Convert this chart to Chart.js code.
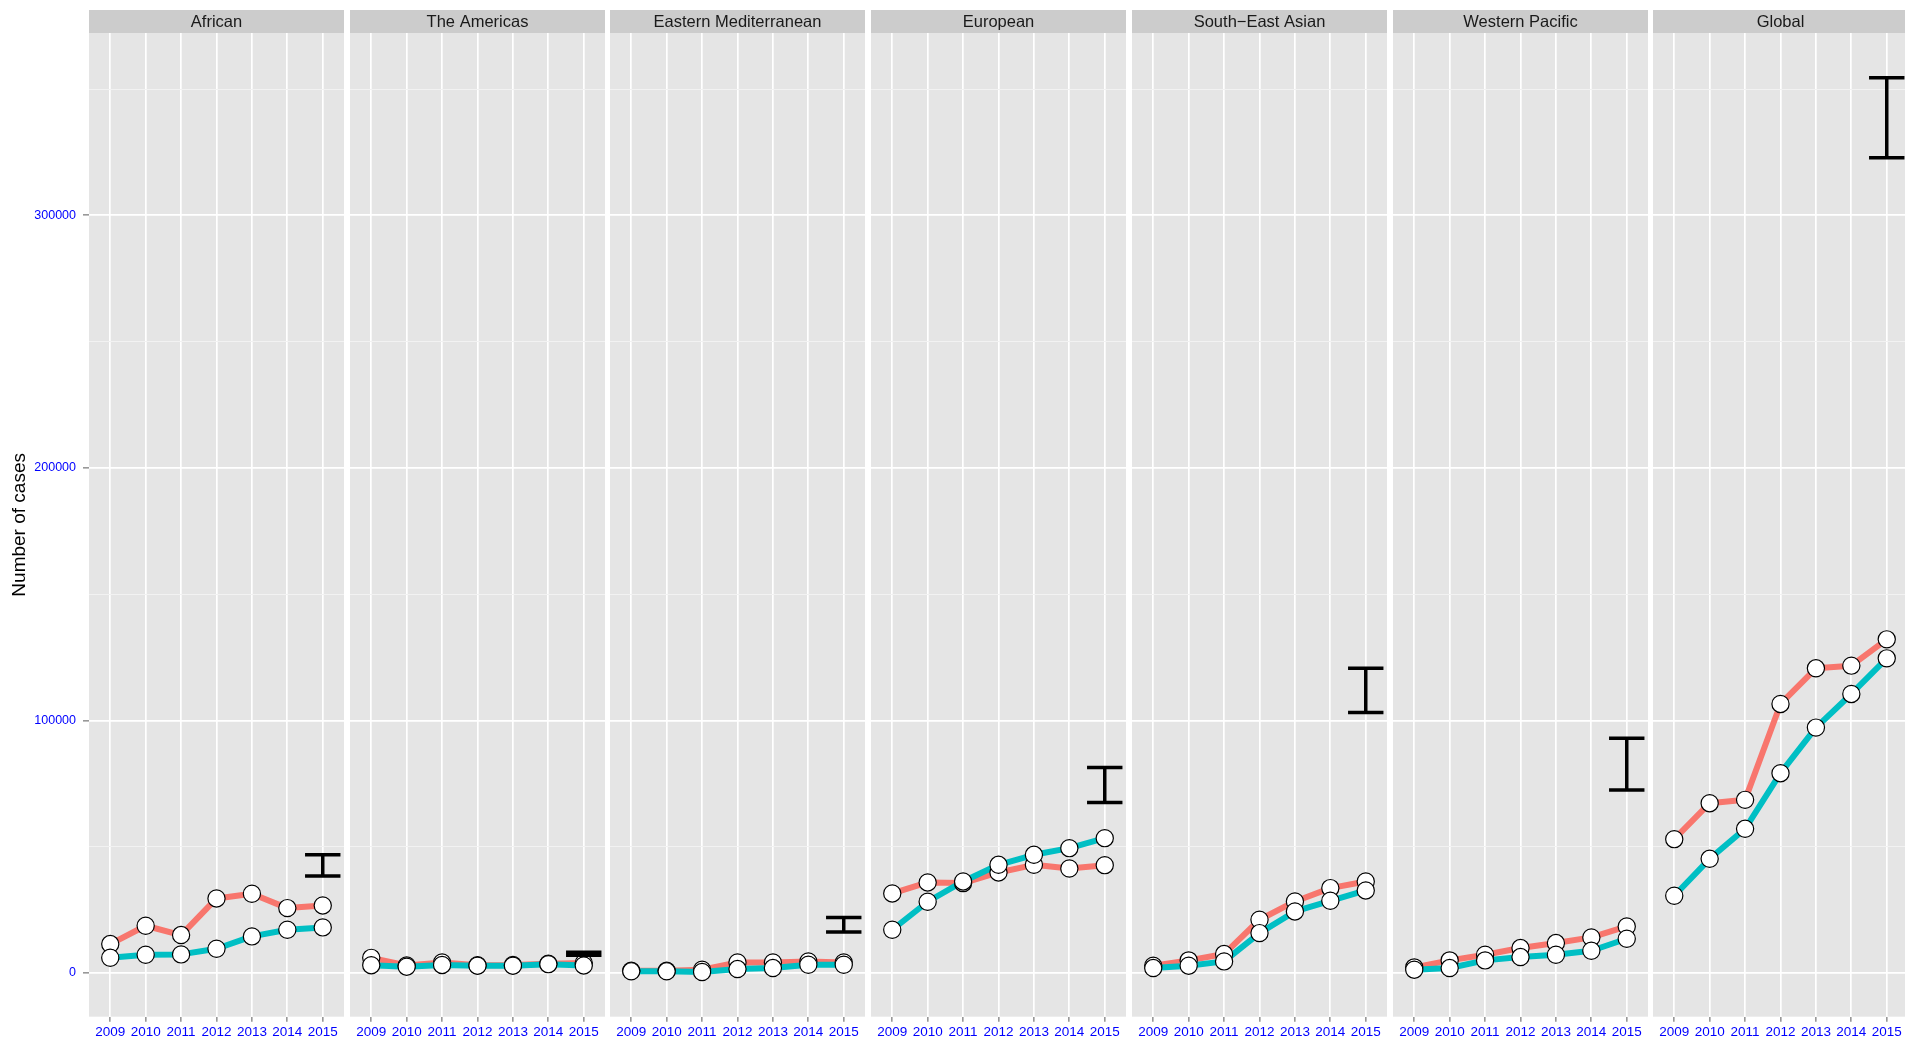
<!DOCTYPE html>
<html>
<head>
<meta charset="utf-8">
<title>Number of cases by WHO region, 2009–2015</title>
<script src="https://cdn.jsdelivr.net/npm/chart.js@4/dist/chart.umd.min.js"></script>
<style>
  html, body { margin: 0; padding: 0; background: #ffffff; overflow: hidden; }
  #wrap { position: relative; width: 1905px; height: 1040px; overflow: hidden; }
  #wrap canvas { position: absolute; top: 0; }
</style>
</head>
<body>
<div id="wrap"></div>
<script>
// Facet panels, one per region
const regions = ['African', 'The Americas', 'Eastern Mediterranean', 'European', 'South\u2212East Asian', 'Western Pacific', 'Global'];
const years = ['2009', '2010', '2011', '2012', '2013', '2014', '2015'];

// Cases detected (red line), one row per region, 2009..2015
const detected = [
  [11460, 18710, 15020, 29520, 31370, 25700, 26750],
  [6000, 3000, 4200, 3100, 3200, 3700, 4000],
  [910, 910, 1300, 4200, 4200, 4600, 4200],
  [31500, 35850, 35590, 39810, 42840, 41390, 42710],
  [2890, 5000, 7500, 21090, 28340, 33610, 36250],
  [2230, 5000, 7240, 9880, 11860, 14100, 18450],
  [53000, 67240, 68560, 106540, 120650, 121700, 132120]
];

// Cases enrolled on treatment (teal line), one row per region, 2009..2015
const enrolled = [
  [6050, 7240, 7370, 9610, 14490, 17130, 18050],
  [3100, 2500, 3200, 2900, 2900, 3500, 3000],
  [650, 650, 400, 1570, 1970, 3280, 3280],
  [17130, 28210, 36250, 42840, 46800, 49440, 53400],
  [1970, 2890, 4600, 15810, 24380, 28600, 32690],
  [1310, 1970, 5000, 6320, 7240, 8820, 13570],
  [30580, 45220, 57090, 79110, 97170, 110490, 124600]
];

// 2015 estimate range drawn as an error bar
const estLow  = [38370, 7020, 16210, 67500, 103110, 72510, 322800];
const estHigh = [46800, 8250, 22010, 81350, 120650, 92950, 354500];

// y axis: major ticks labelled, minor ticks only as faint grid lines
const yMajor = [0, 100000, 200000, 300000];
const yMinor = [50000, 150000, 250000, 350000];

const RED = '#F8766D';
const TEAL = '#00BFC4';
const TICK_BLUE = '#0000FF';
const FONT = '"Liberation Sans", Arial, Helvetica, sans-serif';

const Y_MIN = -17300, Y_MAX = 372200;
const X_PAD = 0.6;          // discrete-scale expansion on each side
const BAR_HALF = 0.5;       // half width of the error bar caps

const PANEL_W = 255;
const FIRST_LEFT = 89;
const PANEL_STEP = 260.7;
const STRIP_TOP = 10, PANEL_TOP = 33;
const X_AXIS_H = 23.3;
const H = 1040;

const allYTicks = yMajor.concat(yMinor).sort((a, b) => a - b);
const isMajor = v => yMajor.includes(v);

// Panel background and facet strip
const panelPlugin = {
  id: 'panelDecor',
  beforeDraw(chart, args, opts) {
    const { ctx, chartArea: a } = chart;
    ctx.save();
    ctx.fillStyle = '#E5E5E5';
    ctx.fillRect(a.left, a.top, a.right - a.left, a.bottom - a.top);
    ctx.fillStyle = '#CCCCCC';
    ctx.fillRect(a.left, STRIP_TOP, a.right - a.left, PANEL_TOP - STRIP_TOP);
    ctx.fillStyle = '#1A1A1A';
    ctx.font = '16.5px ' + FONT;
    ctx.textAlign = 'center';
    ctx.textBaseline = 'middle';
    ctx.fillText(opts.label, (a.left + a.right) / 2, (STRIP_TOP + PANEL_TOP) / 2 + 0.5);
    ctx.restore();
  }
};

function errorBarData(r) {
  const xi = years.length - 1;
  const lo = estLow[r], hi = estHigh[r];
  return [
    { x: xi - BAR_HALF, y: hi }, { x: xi + BAR_HALF, y: hi }, { x: xi, y: null },
    { x: xi, y: hi }, { x: xi, y: lo }, { x: xi, y: null },
    { x: xi - BAR_HALF, y: lo }, { x: xi + BAR_HALF, y: lo }
  ];
}

function seriesData(values) {
  return values.map((v, i) => ({ x: i, y: v }));
}

const wrap = document.getElementById('wrap');

regions.forEach((name, r) => {
  const first = r === 0;
  const panelLeft = Math.round(FIRST_LEFT + r * PANEL_STEP);
  const canvasLeft = first ? 0 : panelLeft;
  const yAxisW = first ? panelLeft : 0;
  const canvas = document.createElement('canvas');
  canvas.width = yAxisW + PANEL_W;
  canvas.height = H;
  canvas.style.left = canvasLeft + 'px';
  wrap.appendChild(canvas);

  const lineStyle = (color) => ({
    borderColor: color, borderWidth: 6, pointRadius: 0, fill: false,
    borderJoinStyle: 'round', tension: 0
  });
  const pointStyle = {
    showLine: false, pointRadius: 8.6, pointBorderWidth: 1.2,
    pointBackgroundColor: '#FFFFFF', pointBorderColor: '#000000'
  };

  new Chart(canvas, {
    type: 'line',
    data: {
      datasets: [
        // points (lower order → drawn on top); teal above red
        Object.assign({ label: 'enrolled pts', data: seriesData(enrolled[r]) }, pointStyle, { order: 1 }),
        Object.assign({ label: 'detected pts', data: seriesData(detected[r]) }, pointStyle, { order: 2 }),
        Object.assign({ label: 'enrolled', data: seriesData(enrolled[r]) }, lineStyle(TEAL), { order: 3 }),
        Object.assign({ label: 'detected', data: seriesData(detected[r]) }, lineStyle(RED), { order: 4 }),
        {
          label: 'estimate', data: errorBarData(r), borderColor: '#000000', borderWidth: 3.5,
          pointRadius: 0, spanGaps: false, borderCapStyle: 'butt', order: 0
        }
      ]
    },
    options: {
      responsive: false,
      animation: false,
      events: [],
      layout: { autoPadding: false, padding: { top: PANEL_TOP, left: 0, right: 0, bottom: 0 } },
      plugins: {
        legend: { display: false },
        tooltip: { enabled: false },
        panelDecor: { label: name }
      },
      scales: {
        x: {
          type: 'linear',
          min: -X_PAD,
          max: years.length - 1 + X_PAD,
          afterBuildTicks: s => { s.ticks = years.map((_, i) => ({ value: i })); },
          afterFit: s => { s.height = X_AXIS_H; },
          border: { display: false },
          grid: { color: '#FFFFFF', lineWidth: 1.7, tickColor: '#7F7F7F', tickLength: 5, tickWidth: 1.3 },
          ticks: {
            autoSkip: false, maxRotation: 0, minRotation: 0, padding: 2,
            color: TICK_BLUE, font: { family: FONT, size: 13.5 },
            callback: v => years[v]
          }
        },
        y: {
          type: 'linear',
          min: Y_MIN,
          max: Y_MAX,
          afterBuildTicks: s => { s.ticks = allYTicks.map(v => ({ value: v })); },
          afterFit: s => { s.width = yAxisW; },
          border: { display: false },
          grid: {
            color: c => isMajor(c.tick.value) ? '#FFFFFF' : '#F2F2F2',
            lineWidth: c => isMajor(c.tick.value) ? 1.7 : 1,
            drawTicks: first,
            tickLength: 6,
            tickWidth: 1.3,
            tickColor: c => isMajor(c.tick.value) ? '#7F7F7F' : 'rgba(0,0,0,0)'
          },
          ticks: {
            display: first,
            padding: 7,
            color: TICK_BLUE,
            font: { family: FONT, size: 12.5 },
            callback: v => isMajor(v) ? String(v) : ''
          },
          title: {
            display: first,
            text: 'Number of cases',
            color: '#000000',
            font: { family: FONT, size: 19 },
            padding: { top: 8, bottom: 0 }
          }
        }
      }
    },
    plugins: [panelPlugin]
  });
});
</script>
</body>
</html>
